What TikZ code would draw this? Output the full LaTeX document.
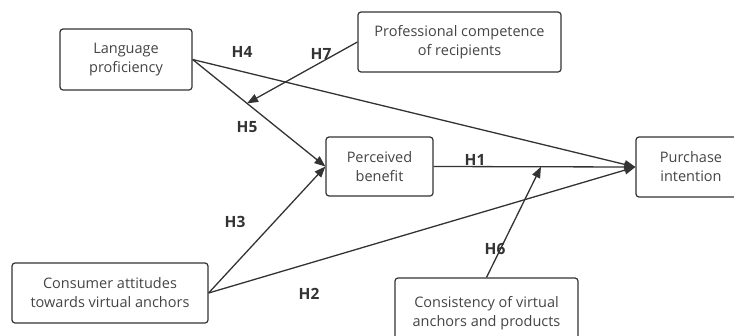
\documentclass[tikz,border=0pt]{standalone}
\usepackage{fontspec}
\setmainfont{Open Sans}
\usetikzlibrary{arrows.meta,calc}
\definecolor{boxline}{HTML}{333333}
\definecolor{txt}{HTML}{444444}
\definecolor{edge}{HTML}{333333}
\tikzset{
  x=1pt,y=-1pt,
  box/.style={draw=boxline,line width=1.2pt,rounded corners=3pt,align=center,
    font=\fontsize{14.5}{19}\selectfont,text=txt,inner sep=0pt},
  link/.style={draw=edge,line width=1.3pt,-{Triangle[length=11pt,width=8.5pt]}},
  hyp/.style={font=\fontsize{15.5}{17}\selectfont\bfseries,text=edge,inner sep=0pt}
}
\begin{document}
\begin{tikzpicture}
\useasboundingbox (0,0) rectangle (734,335);
\node[box,minimum width=132pt,minimum height=61pt] (lang) at (126,59.5) {Language\\proficiency};
\node[box,minimum width=203pt,minimum height=60pt] (prof) at (459.5,42) {Professional competence\\of recipients};
\node[box,minimum width=107pt,minimum height=59pt] (perc) at (379.5,166.5) {Perceived\\benefit};
\node[box,minimum width=110pt,minimum height=60pt] (purch) at (691,167) {Purchase\\intention};
\node[box,minimum width=196pt,minimum height=60pt] (cons) at (110,293) {Consumer attitudes\\towards virtual anchors};
\node[box,minimum width=183pt,minimum height=70pt] (consist) at (486.5,313) {\raisebox{9pt}{\begin{tabular}{@{}c@{}}Consistency of virtual\\anchors and products\end{tabular}}};
\coordinate (h7end) at ($(lang.east)!0.41!(perc.west)$);
\coordinate (h6end) at ($(perc.east)!0.532!(purch.west)$);
\draw[link] (lang.east) -- (purch.west);
\draw[link] (lang.east) -- (perc.west);
\draw[link] (prof.west) -- (h7end);
\draw[link] (perc.east) -- (purch.west);
\draw[link] (cons.east) -- (perc.west);
\draw[link] (cons.east) -- (purch.west);
\draw[link] (consist.north) -- (h6end);
\node[hyp] (h4) at (242,52) {H4};
\node[hyp] (h7) at (321,54) {H7};
\node[hyp] (h5) at (247,127) {H5};
\node[hyp] (h1) at (475,160) {H1};
\node[hyp] (h3) at (235,222) {H3};
\node[hyp] (h2) at (309,294) {H2};
\node[hyp] (h6) at (495,249) {H6};
\end{tikzpicture}
\end{document}
